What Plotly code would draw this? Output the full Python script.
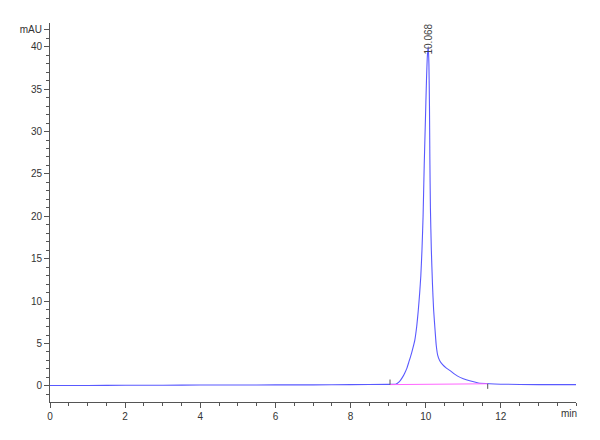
import plotly.graph_objects as go

# retention time (min) and absorbance (mAU)
time_min = [0, 1, 2, 3, 4, 5, 6, 7, 8, 9, 9.2, 9.3, 9.38, 9.44, 9.5, 9.55, 9.6, 9.65,
            9.71, 9.76, 9.8, 9.84, 9.87, 9.9, 9.93, 9.96, 9.99, 10.02, 10.045, 10.068,
            10.085, 10.1, 10.11, 10.125, 10.15, 10.18, 10.21, 10.25, 10.28, 10.32, 10.37,
            10.45, 10.55, 10.65, 10.75, 10.85, 11.0, 11.17, 11.4, 11.7, 12, 13, 14]
signal_mau = [0.05, 0.05, 0.08, 0.08, 0.1, 0.1, 0.12, 0.12, 0.15, 0.18, 0.2, 0.5, 1.0,
              1.5, 2.1, 2.8, 3.5, 4.3, 5.4, 7.0, 8.8, 11, 13, 16, 20, 26, 31, 36, 39, 40.0,
              38, 33, 27, 21, 16, 12, 9, 6.5, 4.8, 3.6, 3.0,
              2.5, 2.1, 1.8, 1.45, 1.15, 0.85, 0.6, 0.35, 0.25, 0.2, 0.15, 0.15]

# integration baseline of the peak
base_t = [9.05, 11.65]
base_y = [0.15, 0.25]

peak_rt = 10.068
peak_height = 40.0

y_ticks = [0, 5, 10, 15, 20, 25, 30, 35, 40, 42]
y_labels = ["0", "5", "10", "15", "20", "25", "30", "35", "40", "mAU"]

fig = go.Figure()
fig.add_trace(go.Scatter(x=time_min, y=signal_mau, mode="lines",
                         line=dict(color="rgba(60,60,255,0.85)", width=1.1, shape="spline", smoothing=0.5),
                         hoverinfo="skip"))
fig.add_trace(go.Scatter(x=base_t, y=base_y, mode="lines",
                         line=dict(color="#ff66ff", width=1), hoverinfo="skip"))

# little drop marks at start and end of integration
for t, y, dy in [(base_t[0], base_y[0], 0.6), (base_t[1], base_y[1], -0.6)]:
    fig.add_shape(type="line", x0=t, x1=t, y0=y, y1=y + dy,
                  line=dict(color="#555", width=1))

fig.add_annotation(x=peak_rt, y=peak_height, text=str(peak_rt), textangle=-90,
                   showarrow=False, yanchor="bottom", yshift=-10,
                   font=dict(size=10, color="#444"))
fig.add_annotation(x=13.82, y=-1.9, text="min", showarrow=False, yanchor="top", yshift=-4,
                   font=dict(size=10, color="#333"))

axis_font = dict(family="Liberation Sans, Arial", size=10, color="#333")
# page body has an 8px margin, so the plot box is pulled up/left to compensate
fig.update_layout(
    width=600, height=440,
    margin=dict(l=42, r=32, t=15, b=46),
    paper_bgcolor="white", plot_bgcolor="white",
    showlegend=False,
    font=axis_font,
    xaxis=dict(range=[0, 14], tickvals=[0, 2, 4, 6, 8, 10, 12], ticks="outside", ticklen=5,
               tickcolor="#555", showline=True, linecolor="#555", linewidth=1,
               showgrid=False, zeroline=False, tickfont=axis_font, automargin=False,
               minor=dict(dtick=0.5, tick0=0, ticks="outside", ticklen=3, tickcolor="#555")),
    yaxis=dict(range=[-1.9, 42.8], tickvals=y_ticks, ticktext=y_labels, ticks="outside",
               ticklen=5, tickcolor="#555", showline=True, linecolor="#555", linewidth=1,
               showgrid=False, zeroline=False, tickfont=axis_font, automargin=False,
               minor=dict(dtick=1, tick0=0, ticks="outside", ticklen=3, tickcolor="#555")),
)

fig.write_html("out.html")
